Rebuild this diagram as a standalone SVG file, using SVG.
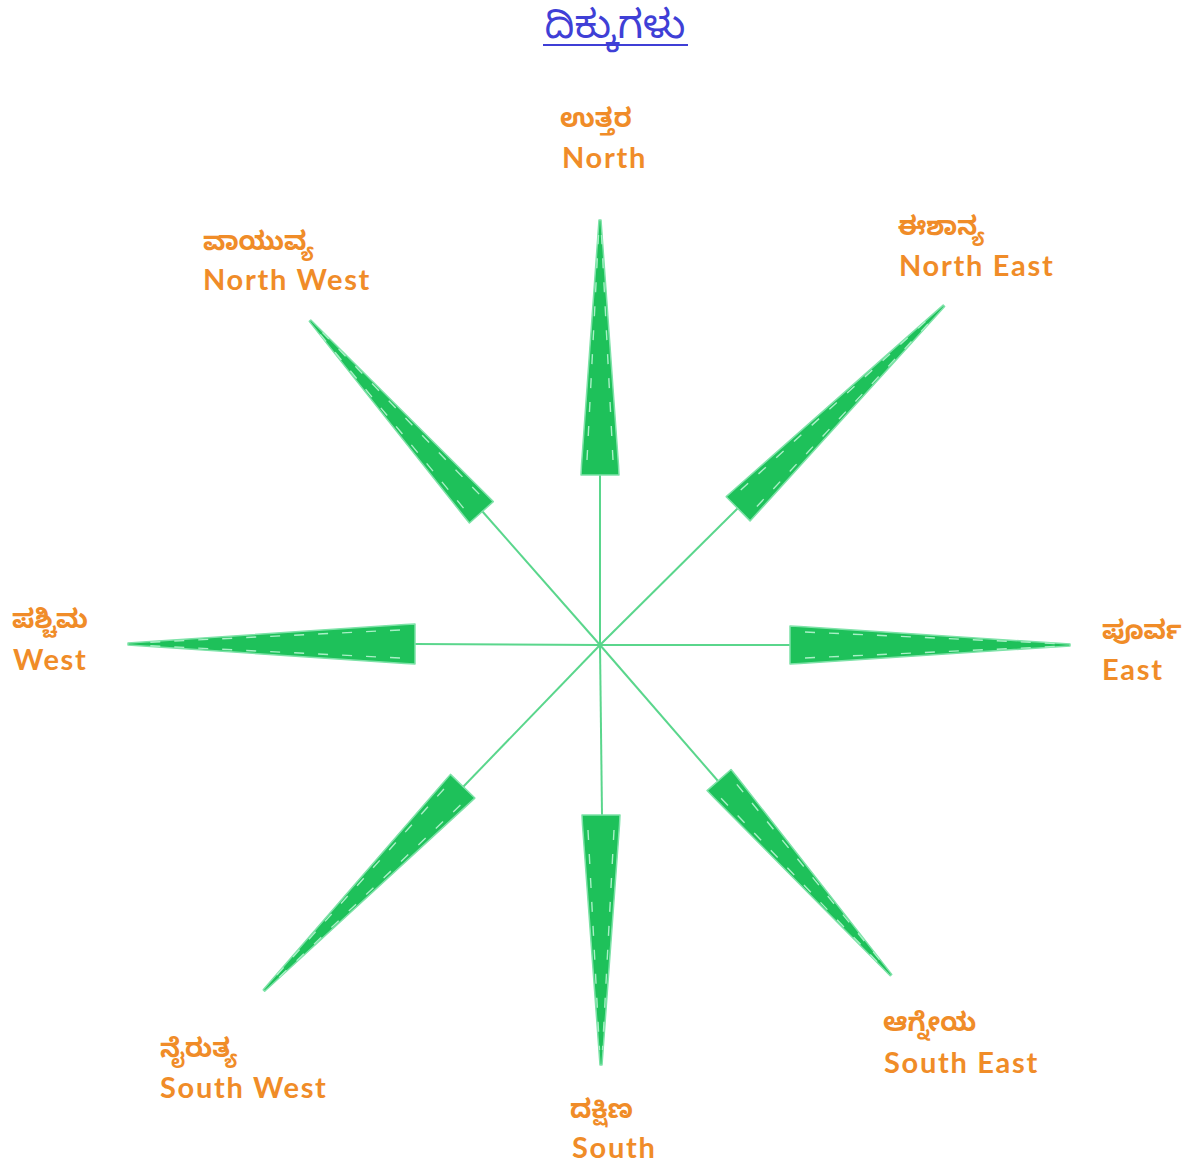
<svg xmlns="http://www.w3.org/2000/svg" width="1192" height="1166" viewBox="0 0 1192 1166">
<style>
.bg{fill:#ffffff}
.title{font-family:"Noto Sans Kannada","Noto Sans","Lato",sans-serif;font-size:39px;fill:#3f3fd6}
.kn{font-family:"Noto Sans Kannada","Noto Sans","Lato",sans-serif;font-size:26px;font-weight:bold;fill:#f08c28}
.en{font-family:"Lato","Open Sans",sans-serif;font-size:29px;font-weight:bold;fill:#f08c28;letter-spacing:1.7px}
.arrow polygon{fill:#1ec15a;stroke:#7ee2a8;stroke-width:1.5;stroke-linejoin:round}
.arrow .d{stroke:#a8f0c6;stroke-width:1.4;stroke-dasharray:10 14;fill:none}
.conn line{stroke:#5ad68c;stroke-width:2}
</style>
<rect class="bg" x="0" y="0" width="1192" height="1166"/>
<g id="title">
<text class="title" x="615" y="38" text-anchor="middle">ದಿಕ್ಕುಗಳು</text>
<line x1="543" y1="45" x2="688" y2="45" stroke="#3f3fd6" stroke-width="2"/>
</g>
<g id="connectors" class="conn">
<line x1="600" y1="645" x2="600" y2="475"/>
<line x1="600" y1="645" x2="602" y2="815"/>
<line x1="600" y1="645" x2="790" y2="645"/>
<line x1="600" y1="645" x2="415" y2="644"/>
<line x1="600" y1="645" x2="738" y2="508"/>
<line x1="600" y1="645" x2="482" y2="511"/>
<line x1="600" y1="645" x2="718" y2="781"/>
<line x1="600" y1="645" x2="463" y2="787"/>
</g>
<g id="arrow-north" class="arrow" transform="translate(600,645) rotate(-90)">
<polygon points="170,-19 180,-18.5 425,-1 425,1 180,18.5 170,19"/>
<line class="d" x1="185" y1="-13" x2="410" y2="-1.5"/>
<line class="d" x1="185" y1="13" x2="410" y2="1.5"/>
</g>
<g id="arrow-south" class="arrow" transform="translate(601,645) rotate(90)">
<polygon points="170,-19 180,-18.5 420,-1 420,1 180,18.5 170,19"/>
<line class="d" x1="185" y1="-13" x2="405" y2="-1.5"/>
<line class="d" x1="185" y1="13" x2="405" y2="1.5"/>
</g>
<g id="arrow-east" class="arrow" transform="translate(600,645) rotate(0)">
<polygon points="190,-19 200,-18.5 470,-1 470,1 200,18.5 190,19"/>
<line class="d" x1="205" y1="-13" x2="455" y2="-1.5"/>
<line class="d" x1="205" y1="13" x2="455" y2="1.5"/>
</g>
<g id="arrow-west" class="arrow" transform="translate(600,644) rotate(180)">
<polygon points="185,-20 195,-19.5 472,-1 472,1 195,19.5 185,20"/>
<line class="d" x1="200" y1="-14" x2="455" y2="-1.5"/>
<line class="d" x1="200" y1="14" x2="455" y2="1.5"/>
</g>
<g id="arrow-northeast" class="arrow" transform="translate(600,645) rotate(-44.6)">
<polygon points="194,-17 204,-16.5 483,-1 483,1 204,16.5 194,17"/>
<line class="d" x1="209" y1="-11.5" x2="465" y2="-1.5"/>
<line class="d" x1="209" y1="11.5" x2="465" y2="1.5"/>
</g>
<g id="arrow-northwest" class="arrow" transform="translate(600,645) rotate(-131.8)">
<polygon points="178,-16 188,-15.5 435,-1 435,1 188,15.5 178,16"/>
<line class="d" x1="193" y1="-10.5" x2="418" y2="-1.5"/>
<line class="d" x1="193" y1="10.5" x2="418" y2="1.5"/>
</g>
<g id="arrow-southeast" class="arrow" transform="translate(600,645) rotate(48.6)">
<polygon points="180,-16 190,-15.5 440,-1 440,1 190,15.5 180,16"/>
<line class="d" x1="195" y1="-10.5" x2="423" y2="-1.5"/>
<line class="d" x1="195" y1="10.5" x2="423" y2="1.5"/>
</g>
<g id="arrow-southwest" class="arrow" transform="translate(600,645) rotate(134.2)">
<polygon points="197,-17 207,-16.5 482,-1 482,1 207,16.5 197,17"/>
<line class="d" x1="212" y1="-11.5" x2="465" y2="-1.5"/>
<line class="d" x1="212" y1="11.5" x2="465" y2="1.5"/>
</g>
<g id="label-north"><text class="kn" x="560" y="127">ಉತ್ತರ</text><text class="en" x="562" y="168">North</text></g>
<g id="label-northeast"><text class="kn" x="898" y="235">ಈಶಾನ್ಯ</text><text class="en" x="899" y="276">North East</text></g>
<g id="label-northwest"><text class="kn" x="203" y="250">ವಾಯುವ್ಯ</text><text class="en" x="203" y="290">North West</text></g>
<g id="label-west"><text class="kn" x="12" y="628">ಪಶ್ಚಿಮ</text><text class="en" x="13" y="670">West</text></g>
<g id="label-east"><text class="kn" x="1102" y="639">ಪೂರ್ವ</text><text class="en" x="1102" y="680">East</text></g>
<g id="label-southeast"><text class="kn" x="883" y="1031">ಆಗ್ನೇಯ</text><text class="en" x="884" y="1073">South East</text></g>
<g id="label-southwest"><text class="kn" x="160" y="1057">ನೈರುತ್ಯ</text><text class="en" x="160" y="1098">South West</text></g>
<g id="label-south"><text class="kn" x="570" y="1118">ದಕ್ಷಿಣ</text><text class="en" x="572" y="1158">South</text></g>
</svg>
